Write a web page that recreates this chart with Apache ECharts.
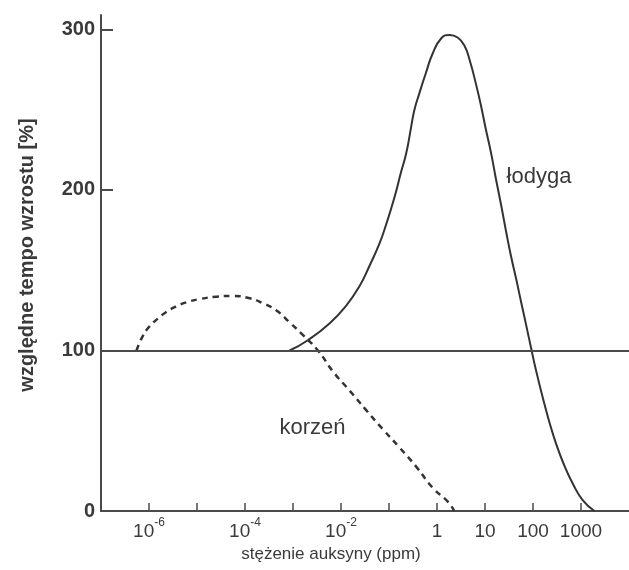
<!DOCTYPE html>
<html>
<head>
<meta charset="utf-8">
<script src="https://cdn.jsdelivr.net/npm/echarts@6/dist/echarts.min.js"></script>
<style>
  html, body { margin: 0; padding: 0; background: #fff; }
  #chart { width: 629px; height: 570px; }
</style>
</head>
<body>
<div id="chart"></div>
<script>
// x = log10 of auxin concentration (ppm), y = relative growth rate [%]
var stemLogC = [-3.07, -2.69, -2.24, -1.89, -1.61, -1.41, -1.20, -1.06, -0.89, -0.75, -0.64, -0.54, -0.47, -0.37, -0.23, -0.09, 0.09, 0.26, 0.43, 0.57, 0.68, 0.82, 0.92, 1.02, 1.13, 1.23, 1.34, 1.44, 1.54, 1.65, 1.75, 1.86, 1.96, 2.06, 2.20, 2.34, 2.48, 2.65, 2.83, 3.03, 3.28];
var stemValue = [100, 106.4, 116.8, 128, 140.3, 152.5, 166.5, 178.5, 195, 211, 223, 239, 250, 260, 273, 285, 294.5, 296.6, 295, 290, 281, 265, 252, 237.5, 222.5, 206.5, 190, 174, 159, 144.5, 130.5, 115.5, 101.5, 88, 71, 55.5, 42, 28.5, 17, 7, 0];

var rootLogC = [-6.26, -6.13, -5.99, -5.81, -5.64, -5.43, -5.22, -4.95, -4.60, -4.25, -3.90, -3.63, -3.35, -3.07, -2.79, -2.48, -2.17, -1.82, -1.48, -1.13, -0.78, -0.43, -0.09, 0.22, 0.36];
var rootValue = [100, 109, 115, 120, 124, 127.5, 130, 132, 133.5, 134, 132.5, 129.5, 125, 117.5, 109.5, 100, 87, 75, 63, 51, 39.5, 27.5, 14.5, 6, 0];

var xTickExp = [-6, -5, -4, -3, -2, -1, 0, 1, 2, 3];
var xLabelExp = [-6, -4, -2, 0, 1, 2, 3];
var yTicks = [100, 200, 300];
var yLabels = [0, 100, 200, 300];

function pairs(xs, ys) {
  return xs.map(function (x, i) { return [x, ys[i]]; });
}

function expLabel(v) {
  if (v < 0) return '{b|10}{s|' + v + '}';
  return '{b|' + Math.pow(10, v) + '}';
}

var axisColor = '#4a4a4a';
var textColor = '#3a3a3a';
var font = 'Liberation Sans, Arial';

var chart = echarts.init(document.getElementById('chart'));
chart.setOption({
  animation: false,
  backgroundColor: '#ffffff',
  grid: { left: 101, right: 0, top: 15, bottom: 59 },
  xAxis: {
    type: 'value',
    min: -7,
    max: 4,
    name: 'stężenie auksyny (ppm)',
    nameLocation: 'middle',
    nameGap: 34,
    nameTextStyle: { fontSize: 17, color: textColor, fontFamily: font, padding: [0, 68, 0, 0] },
    axisLine: { onZero: false, lineStyle: { color: axisColor, width: 2 } },
    axisTick: { inside: true, length: 8, customValues: xTickExp, lineStyle: { color: axisColor, width: 1.5 } },
    axisLabel: {
      customValues: xLabelExp,
      margin: 6,
      formatter: expLabel,
      rich: {
        b: { fontSize: 19, color: textColor, fontFamily: font, lineHeight: 24, verticalAlign: 'bottom' },
        s: { fontSize: 12, color: textColor, fontFamily: font, lineHeight: 24, verticalAlign: 'top' }
      }
    },
    splitLine: { show: false }
  },
  yAxis: {
    type: 'value',
    min: 0,
    max: 309,
    name: 'względne tempo wzrostu [%]',
    nameLocation: 'middle',
    nameGap: 64,
    nameTextStyle: { fontSize: 20, fontWeight: 'bold', color: textColor, fontFamily: font, padding: [0, 0, 0, 16] },
    axisLine: { onZero: false, lineStyle: { color: axisColor, width: 2 } },
    axisTick: { inside: true, length: 12, customValues: yTicks, lineStyle: { color: axisColor, width: 2 } },
    axisLabel: {
      customValues: yLabels,
      margin: 6,
      fontSize: 20,
      fontWeight: 'bold',
      color: textColor,
      fontFamily: font
    },
    splitLine: { show: false }
  },
  series: [
    {
      name: 'łodyga',
      type: 'line',
      data: pairs(stemLogC, stemValue),
      smooth: 0.5,
      symbol: 'none',
      lineStyle: { color: '#333', width: 2 },
      markLine: {
        silent: true,
        symbol: ['none', 'none'],
        label: { show: false },
        lineStyle: { type: 'solid', color: axisColor, width: 2 },
        data: [{ yAxis: 100 }]
      },
      markPoint: {
        symbolSize: 0,
        label: { show: true, position: 'right', distance: 0, formatter: 'łodyga', fontSize: 22, color: textColor, fontFamily: font },
        data: [{ coord: [1.45, 208] }]
      }
    },
    {
      name: 'korzeń',
      type: 'line',
      data: pairs(rootLogC, rootValue),
      smooth: 0.5,
      symbol: 'none',
      lineStyle: { color: '#333', width: 2.5, type: [6, 5] },
      markPoint: {
        symbolSize: 0,
        label: { show: true, position: 'right', distance: 0, formatter: 'korzeń', fontSize: 22, color: textColor, fontFamily: font },
        data: [{ coord: [-3.28, 52] }]
      }
    }
  ]
});
</script>
</body>
</html>
